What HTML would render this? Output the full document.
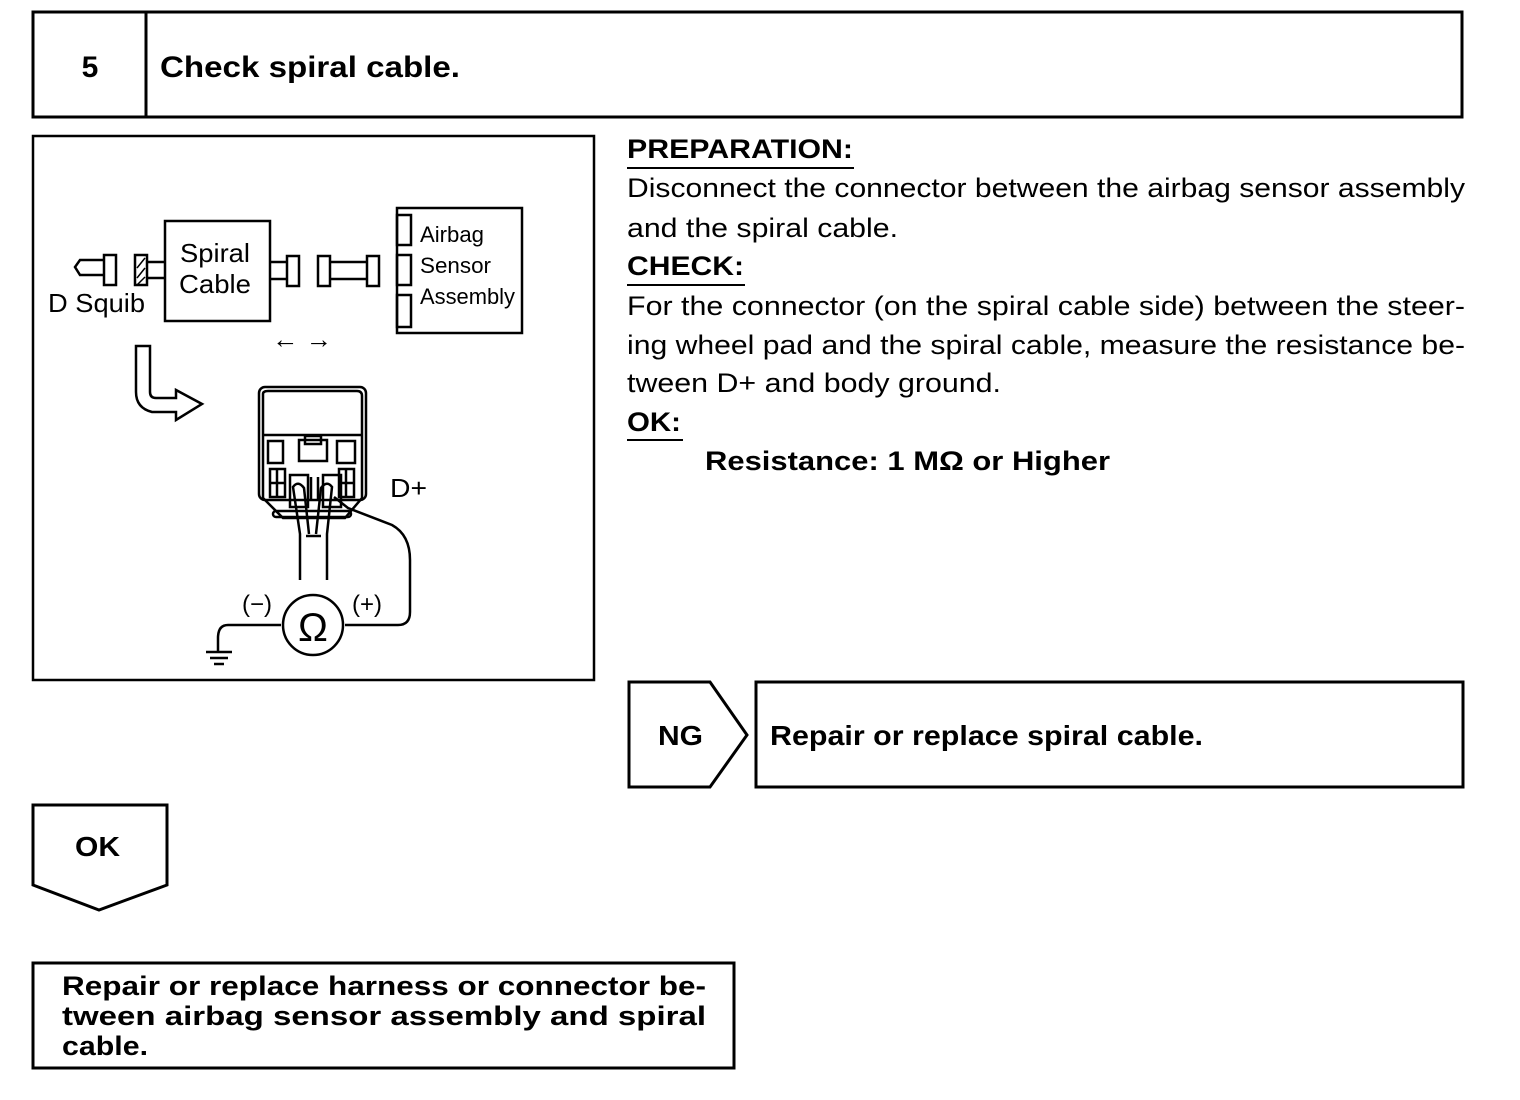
<!DOCTYPE html>
<html><head><meta charset="utf-8"><style>
html,body{margin:0;padding:0;background:#fff;}
svg{display:block;}
text{font-family:"Liberation Sans",Arial,sans-serif;fill:#000;}
</style></head><body>
<svg width="1520" height="1100" viewBox="0 0 1520 1100" xmlns="http://www.w3.org/2000/svg">
<g fill="none" stroke="#000" stroke-width="3">
<rect x="33" y="12" width="1429" height="105"/>
<line x1="146" y1="12" x2="146" y2="117"/>
<rect x="33" y="136" width="561" height="544" stroke-width="2.5"/>
<polygon points="629,682 710,682 747,735 710,787 629,787"/>
<rect x="756" y="682" width="707" height="105"/>
<polygon points="33,805 167,805 167,885 99,910 33,885"/>
<rect x="33" y="963" width="701" height="105"/>
</g>
<text x="90" y="77" font-size="30" font-weight="bold" text-anchor="middle">5</text>
<text x="160" y="77" font-size="30" font-weight="bold" textLength="300" lengthAdjust="spacingAndGlyphs">Check spiral cable.</text>
<text x="658" y="745" font-size="28" font-weight="bold" textLength="45" lengthAdjust="spacingAndGlyphs">NG</text>
<text x="770" y="745" font-size="28" font-weight="bold" textLength="433" lengthAdjust="spacingAndGlyphs">Repair or replace spiral cable.</text>
<text x="75" y="856" font-size="28" font-weight="bold" textLength="45" lengthAdjust="spacingAndGlyphs">OK</text>
<g font-size="27" font-weight="bold">
<text x="62" y="995" textLength="644" lengthAdjust="spacingAndGlyphs">Repair or replace harness or connector be-</text>
<text x="62" y="1025" textLength="644" lengthAdjust="spacingAndGlyphs">tween airbag sensor assembly and spiral</text>
<text x="62" y="1055" textLength="86" lengthAdjust="spacingAndGlyphs">cable.</text>
</g>
<g font-size="27">
<text x="627" y="158" font-weight="bold" textLength="226" lengthAdjust="spacingAndGlyphs">PREPARATION:</text>
<line x1="627" y1="168" x2="854" y2="168" stroke="#000" stroke-width="2"/>
<text x="627" y="197" textLength="838" lengthAdjust="spacingAndGlyphs">Disconnect the connector between the airbag sensor assembly</text>
<text x="627" y="237" textLength="271" lengthAdjust="spacingAndGlyphs">and the spiral cable.</text>
<text x="627" y="275" font-weight="bold" textLength="117" lengthAdjust="spacingAndGlyphs">CHECK:</text>
<line x1="627" y1="285" x2="745" y2="285" stroke="#000" stroke-width="2"/>
<text x="627" y="315" textLength="838" lengthAdjust="spacingAndGlyphs">For the connector (on the spiral cable side) between the steer-</text>
<text x="627" y="354" textLength="838" lengthAdjust="spacingAndGlyphs">ing wheel pad and the spiral cable, measure the resistance be-</text>
<text x="627" y="392" textLength="374" lengthAdjust="spacingAndGlyphs">tween D+ and body ground.</text>
<text x="627" y="431" font-weight="bold" textLength="54" lengthAdjust="spacingAndGlyphs">OK:</text>
<line x1="627" y1="440" x2="683" y2="440" stroke="#000" stroke-width="2"/>
<text x="705" y="470" font-weight="bold" textLength="405" lengthAdjust="spacingAndGlyphs">Resistance:  1 MΩ or Higher</text>
</g>
<!-- diagram -->
<g fill="none" stroke="#000" stroke-width="2.5">
<rect x="165" y="221" width="105" height="100"/>
<rect x="397" y="208" width="125" height="125"/>
<rect x="397" y="215" width="14" height="30"/>
<rect x="397" y="255" width="14" height="30"/>
<rect x="397" y="295" width="14" height="32"/>
<polyline points="104,260 80,260 75,267 80,275 104,275"/>
<rect x="104" y="255" width="12" height="30"/>
<rect x="135" y="255" width="12" height="30"/>
<line x1="137" y1="268" x2="145" y2="258" stroke-width="1.5"/>
<line x1="137" y1="278" x2="145" y2="268" stroke-width="1.5"/>
<line x1="137" y1="285" x2="145" y2="277" stroke-width="1.5"/>
<line x1="147" y1="262" x2="165" y2="262"/>
<line x1="147" y1="278" x2="165" y2="278"/>
<line x1="270" y1="262" x2="287" y2="262"/>
<line x1="270" y1="279" x2="287" y2="279"/>
<rect x="287" y="256" width="12" height="30"/>
<rect x="318" y="256" width="12" height="30"/>
<line x1="330" y1="262" x2="367" y2="262"/>
<line x1="330" y1="279" x2="367" y2="279"/>
<rect x="367" y="256" width="12" height="30"/>
<path d="M136,346 L136,392 Q136,408 152,412 L176,412 L176,420 L202,404 L176,390 L176,398 L156,398 Q150,398 150,392 L150,346 Z"/>
<rect x="259" y="387" width="107" height="113" rx="6"/>
<path d="M263,394 Q263,391 268,391 L357,391 Q362,391 362,396 L362,498 L345,518 L283,518 L263,498 Z"/>
<line x1="263" y1="435" x2="362" y2="435"/>
<rect x="268" y="441" width="15" height="22"/>
<rect x="299" y="440" width="28" height="21"/>
<rect x="305" y="436" width="16" height="8"/>
<rect x="337" y="441" width="18" height="22"/>
<rect x="270" y="469" width="15" height="28"/>
<line x1="270" y1="483" x2="285" y2="483"/>
<line x1="277" y1="469" x2="277" y2="497"/>
<rect x="339" y="469" width="15" height="28"/>
<line x1="339" y1="483" x2="354" y2="483"/>
<line x1="346" y1="469" x2="346" y2="497"/>
<rect x="290" y="475" width="18" height="32"/>
<rect x="323" y="475" width="18" height="32"/>
<line x1="311" y1="477" x2="311" y2="500"/>
<line x1="318" y1="477" x2="318" y2="500"/>
<rect x="273" y="511" width="78" height="6" rx="3"/>
<path d="M300,580 L300,534 L293,487 Q298,480 304,488 L309,534"/>
<path d="M327,580 L327,534 L332,487 Q327,480 321,488 L316,534"/>
<line x1="306" y1="536" x2="321" y2="536"/>
<path d="M334,497 L348,508 L392,525 Q410,535 410,560 L410,612 Q410,625 398,625 L345,625"/>
<circle cx="313" cy="625" r="30"/>
<path d="M281,625 L228,625 Q218,625 218,638 L218,652"/>
<line x1="206" y1="652" x2="232" y2="652"/>
<line x1="210" y1="658" x2="228" y2="658"/>
<line x1="214" y1="664" x2="224" y2="664"/>
</g>
<g font-size="26">
<text x="180" y="262" textLength="70" lengthAdjust="spacingAndGlyphs">Spiral</text>
<text x="179" y="293" textLength="72" lengthAdjust="spacingAndGlyphs">Cable</text>
<text x="48" y="312" textLength="97" lengthAdjust="spacingAndGlyphs">D Squib</text>
<text x="420" y="242" font-size="22" textLength="64" lengthAdjust="spacingAndGlyphs">Airbag</text>
<text x="420" y="273" font-size="22" textLength="71" lengthAdjust="spacingAndGlyphs">Sensor</text>
<text x="420" y="304" font-size="22" textLength="95" lengthAdjust="spacingAndGlyphs">Assembly</text>
<text x="272" y="348" font-size="26" textLength="60" lengthAdjust="spacingAndGlyphs">← →</text>
<text x="390" y="497" textLength="37" lengthAdjust="spacingAndGlyphs">D+</text>
<text x="242" y="612" font-size="24">(−)</text>
<text x="352" y="612" font-size="24">(+)</text>
<text x="313" y="641" font-size="40" text-anchor="middle">Ω</text>
</g>
</svg>
</body></html>
